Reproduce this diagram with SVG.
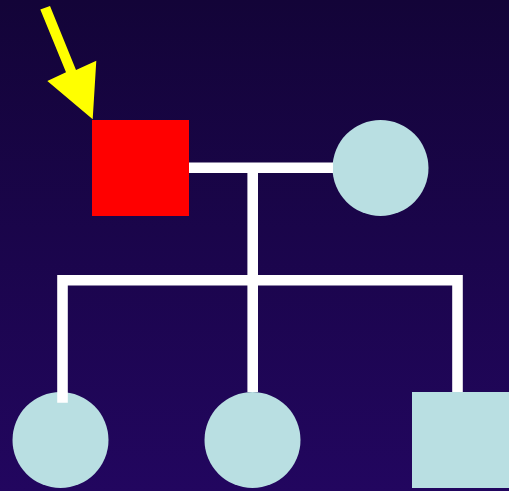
<svg xmlns="http://www.w3.org/2000/svg" width="509" height="491" viewBox="0 0 509 491">
  <defs>
    <linearGradient id="bg" x1="0" y1="0" x2="0" y2="1">
      <stop offset="0" stop-color="#130438"/>
      <stop offset="1" stop-color="#22065f"/>
    </linearGradient>
    <style>
      .line { fill: none; stroke: #ffffff; stroke-width: 10.6; stroke-linecap: butt; stroke-linejoin: miter; }
      .aff { fill: #ff0000; }
      .unaff { fill: #b9dfe2; }
    </style>
  </defs>
  <rect x="0" y="0" width="509" height="491" fill="url(#bg)"/>
  <g id="nodes">
    <g id="proband"><rect class="aff" x="92" y="120" width="97" height="96"/></g>
    <g id="mother"><circle class="unaff" cx="380.5" cy="168" r="48"/></g>
    <g id="child1"><circle class="unaff" cx="60.5" cy="440" r="48"/></g>
    <g id="child2"><circle class="unaff" cx="252.5" cy="440" r="48"/></g>
    <g id="child3"><rect class="unaff" x="412" y="392" width="97" height="96"/></g>
  </g>
  <g id="connectors">
    <line class="line" x1="189" y1="167.8" x2="333" y2="167.8"/>
    <line class="line" x1="252.7" y1="167.8" x2="252.7" y2="392"/>
    <polyline class="line" points="62.5,402.7 62.5,280.3 457.5,280.3 457.5,392"/>
  </g>
  <g id="arrow">
    <polygon fill="#ffff00" points="40.3,9.6 50,6 76,70 96.3,60.7 92.7,119.3 47.3,81 66,72.3"/>
  </g>
</svg>
